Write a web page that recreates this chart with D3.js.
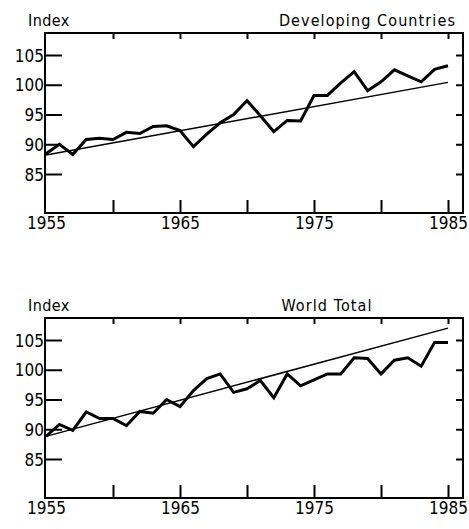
<!DOCTYPE html>
<html>
<head>
<meta charset="utf-8">
<script src="https://cdn.jsdelivr.net/npm/d3@7"></script>
<style>
  body { margin: 0; background: #fff; }
  svg { display: block; }
  text { font-family: "DejaVu Sans Condensed", "DejaVu Sans", sans-serif; fill: #000; }
</style>
</head>
<body>
<div id="main"></div>
<script>
"use strict";

// years and index values
var years = d3.range(1955, 1986);
var developing = [88.4, 90.0, 88.3, 90.8, 91.0, 90.8, 92.0, 91.8, 93.0, 93.1,
                  92.3, 89.6, 91.7, 93.6, 95.0, 97.3, 94.8, 92.1, 94.0, 93.9,
                  98.2, 98.2, 100.3, 102.2, 99.0, 100.5, 102.5, 101.5, 100.5, 102.6,
                  103.2];
var developingTrend = [88.2, 100.4];
var world = [88.8, 90.8, 89.8, 92.9, 91.8, 91.8, 90.6, 93.0, 92.7, 95.0,
             93.8, 96.5, 98.5, 99.3, 96.2, 96.8, 98.2, 95.3, 99.3, 97.3,
             98.3, 99.3, 99.3, 102.0, 101.9, 99.3, 101.6, 102.0, 100.6, 104.6,
             104.6];
var worldTrend = [88.8, 107.0];
var yTicks = [85, 90, 95, 100, 105];
var xTicks = [1955, 1965, 1975, 1985];
var xMinor = [1960, 1965, 1970, 1975, 1980, 1985];

var W = 469, H = 529;
var svg = d3.select("#main").append("svg").attr("width", W).attr("height", H);

function drawPanel(top, title, titleAnchor, titleX, values, trend) {
    var boxTop = top, boxBottom = top + 180;
    var x = d3.scaleLinear().domain([1955, 1985]).range([46, 448]);
    // 105 sits 22px under the frame, 85 sits 141px under it
    var y = d3.scaleLinear().domain([85, 105]).range([boxTop + 141, boxTop + 22]);

    var g = svg.append("g");

    g.append("text").attr("x", 28).attr("y", boxTop - 7)
        .style("font-size", "16px").style("letter-spacing", "0.4px").text("Index");
    g.append("text").attr("x", titleX).attr("y", boxTop - 7)
        .attr("text-anchor", titleAnchor)
        .style("font-size", "16px").style("letter-spacing", "1.1px").text(title);

    // frame
    g.append("rect").attr("x", 45).attr("y", boxTop)
        .attr("width", 418).attr("height", boxBottom - boxTop)
        .attr("fill", "none").attr("stroke", "#000").attr("stroke-width", 2);

    var left = g.append("g").attr("transform", "translate(45,0)")
        .call(d3.axisLeft(y).tickValues(yTicks).tickSize(-17).tickPadding(1));
    var right = g.append("g").attr("transform", "translate(463,0)")
        .call(d3.axisRight(y).tickValues(yTicks).tickSize(-7).tickFormat(""));
    var bottom = g.append("g").attr("transform", "translate(0," + boxBottom + ")")
        .call(d3.axisBottom(x).tickValues(xMinor).tickSize(-13).tickFormat(""));
    var topAx = g.append("g").attr("transform", "translate(0," + boxTop + ")")
        .call(d3.axisTop(x).tickValues(xMinor).tickSize(-6).tickFormat(""));
    var labels = g.append("g").attr("transform", "translate(0," + boxBottom + ")")
        .call(d3.axisBottom(x).tickValues(xTicks).tickSize(0).tickPadding(4).tickFormat(d3.format("d")));

    [left, right, bottom, topAx, labels].forEach(function (a) {
        a.select(".domain").remove();
        a.selectAll("line").attr("stroke", "#000").attr("stroke-width", 2);
        a.selectAll("text").attr("fill", "#000").style("font-size", "17px")
            .style("font-family", '"DejaVu Sans Condensed", "DejaVu Sans", sans-serif');
    });
    left.selectAll("text").attr("dy", "0.36em");

    g.append("line")
        .attr("x1", x(1955)).attr("y1", y(trend[0]))
        .attr("x2", x(1985)).attr("y2", y(trend[1]))
        .attr("stroke", "#000").attr("stroke-width", 1.5);

    var line = d3.line().x(function (d, i) { return x(years[i]); }).y(function (d) { return y(d); });
    g.append("path").datum(values)
        .attr("d", line)
        .attr("fill", "none").attr("stroke", "#000")
        .attr("stroke-width", 3).attr("stroke-linejoin", "miter");
}

drawPanel(33, "Developing Countries", "end", 456, developing, developingTrend);
drawPanel(318, "World Total", "middle", 327, world, worldTrend);
</script>
</body>
</html>
